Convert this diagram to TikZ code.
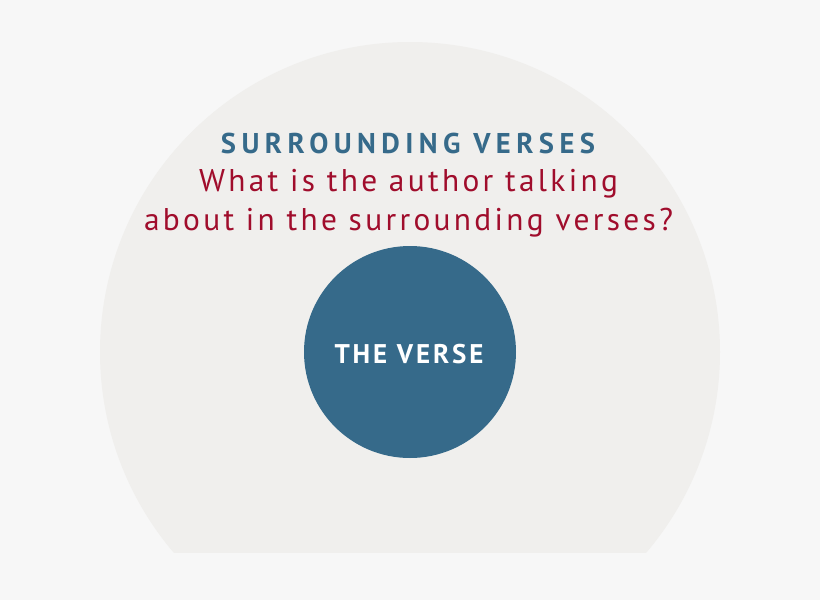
\documentclass[tikz,border=0pt]{standalone}
\usepackage{fontspec}
\setmainfont{PT Sans}
\newfontfamily\titlefont[LetterSpace=19]{PT Sans}
\newfontfamily\versefont[LetterSpace=10.6]{PT Sans}
\newfontfamily\bodyfont[LetterSpace=10.6]{PT Sans}
\definecolor{bgc}{HTML}{F7F7F7}
\definecolor{ringc}{HTML}{F0EFED}
\definecolor{bluec}{HTML}{366A8A}
\definecolor{redc}{HTML}{A00D2C}
\tikzset{
  lbl/.style={inner sep=0pt, anchor=base},
}
\begin{document}
\begin{tikzpicture}[x=1pt,y=-1pt]
\fill[bgc] (0,0) rectangle (820,600);
\useasboundingbox (0,0) rectangle (820,600);
\begin{scope}
\clip (0,0) rectangle (820,552);
\fill[ringc] (410,352) circle (310);
\end{scope}
\node[circle, fill=bluec, minimum size=212pt, inner sep=0pt] (verse) at (410,352) {};
\node[lbl, text=white, font=\versefont\bfseries\fontsize{27}{27}\selectfont] (vtxt) at (409,363) {THE VERSE};
\node[lbl, text=bluec, font=\titlefont\bfseries\fontsize{28.6}{28.6}\selectfont] (title) at (408,153) {SURROUNDING VERSES};
\node[lbl, text=redc, font=\bodyfont\fontsize{31.4}{31.4}\selectfont] (q1) at (408.5,191) {What is the author talking};
\node[lbl, text=redc, font=\bodyfont\fontsize{31.4}{31.4}\selectfont] (q2) at (408.5,230) {about in the surrounding verses?};
\end{tikzpicture}
\end{document}
